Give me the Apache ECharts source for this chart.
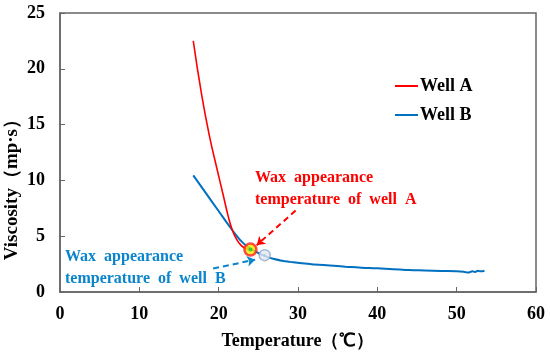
<!DOCTYPE html>
<html><head><meta charset="utf-8">
<script src="https://cdn.jsdelivr.net/npm/echarts@6/dist/echarts.min.js"></script>
<style>html,body{margin:0;padding:0;background:#fff}#c{width:550px;height:355px}</style>
</head><body><div id="c"></div>
<script>
const xTicks = [0, 10, 20, 30, 40, 50, 60];
const yTicks = [0, 5, 10, 15, 20, 25];
const wellATemp = [16.8, 17.8, 18.8, 19.8, 20.6, 21.2, 21.7, 22.2, 22.8, 23.4, 24.0];
const wellAVisc = [22.5, 17.9, 14.1, 11.0, 8.6, 6.8, 5.6, 4.8, 4.2, 3.9, 3.8];
const wellBTemp = [16.8, 18.3, 19.9, 21.3, 22.2, 23.0, 23.8, 24.6, 25.4, 26.2, 27.0, 28.0, 29, 30.5, 32, 34, 36, 38, 40, 42, 44, 46, 48, 50, 51, 51.5, 52, 52.3, 52.7, 53, 53.5];
const wellBVisc = [10.45, 8.95, 7.35, 5.95, 5.1, 4.45, 3.98, 3.65, 3.35, 3.12, 2.95, 2.8, 2.7, 2.57, 2.47, 2.37, 2.27, 2.18, 2.12, 2.03, 1.97, 1.93, 1.89, 1.85, 1.8, 1.75, 1.85, 1.8, 1.9, 1.85, 1.9];
const waxA = [24.0, 3.8];
const waxB = [25.8, 3.3];
const arrowA = [[29.7, 7.3], [24.8, 4.2]];
const arrowB = [[19.3, 2.1], [24.6, 2.9]];

const zip = (a, b) => a.map((v, i) => [v, b[i]]);
const font = 'Liberation Serif, Times New Roman, serif';

const chart = echarts.init(document.getElementById('c'));
chart.setOption({
  animation: false,
  grid: { left: 60, right: 14, top: 13, bottom: 61, show: true, borderColor: '#666', borderWidth: 1.5, backgroundColor: 'transparent' },
  legend: {
    left: 390, top: 72, orient: 'vertical', itemGap: 11, itemWidth: 23, itemHeight: 2,
    icon: 'rect',
    textStyle: { fontFamily: font, fontWeight: 'bold', fontSize: 18, color: '#000', padding: [0,0,0,-3] },
    data: ['Well A', 'Well B']
  },
  xAxis: {
    type: 'value', min: 0, max: 60, interval: 10,
    axisLine: { lineStyle: { color: '#666', width: 1.5 } },
    axisTick: { inside: true, length: 5, lineStyle: { color: '#666', width: 1 } },
    axisLabel: { margin: 13, fontFamily: font, fontWeight: 'bold', fontSize: 18, color: '#000',
      formatter: v => xTicks.includes(v) ? String(v) : '' },
    splitLine: { show: false },
    name: 'Temperature（℃）', nameLocation: 'middle', nameGap: 40,
    nameTextStyle: { fontFamily: font, fontWeight: 'bold', fontSize: 18, color: '#000' }
  },
  yAxis: {
    type: 'value', min: 0, max: 25, interval: 5,
    axisLine: { show: true, lineStyle: { color: '#666', width: 1.5 } },
    axisTick: { show: true, inside: true, length: 5, lineStyle: { color: '#666', width: 1 } },
    axisLabel: { margin: 15, fontFamily: font, fontWeight: 'bold', fontSize: 18, color: '#000',
      formatter: v => yTicks.includes(v) ? String(v) : '' },
    splitLine: { show: false }
  },
  graphic: [
    { type: 'text', left: 3, top: 110, rotation: Math.PI / 2, originX: 0, originY: 0,
      style: { text: 'Viscosity（mp·s）', font: 'bold 19px ' + font, fill: '#000' }, silent: true },
    { type: 'text', x: 255, y: 167, style: { text: 'Wax  appearance\ntemperature  of  well  A', font: 'bold 16px ' + font, fill: '#FF0000', lineHeight: 22 } },
    { type: 'text', x: 65, y: 246, style: { text: 'Wax  appearance\ntemperature  of  well  B', font: 'bold 16px ' + font, fill: '#0A84CC', lineHeight: 22 } }
  ],
  series: [
    { name: 'Well A', type: 'line', smooth: 0.5, showSymbol: false, color: '#FF0000',
      lineStyle: { width: 1.6, color: '#FF0000' }, data: zip(wellATemp, wellAVisc), z: 3 },
    { name: 'Well B', type: 'line', smooth: 0.5, showSymbol: false, color: '#0070C0',
      lineStyle: { width: 2, color: '#0070C0' }, data: zip(wellBTemp, wellBVisc), z: 2 },
    { type: 'lines', coordinateSystem: 'cartesian2d', z: 4,
      symbol: ['none', 'arrow'], symbolSize: 8,
      lineStyle: { type: [6, 4], width: 2, opacity: 1 },
      data: [
        { coords: arrowA, lineStyle: { color: '#FF0000' } },
        { coords: arrowB, lineStyle: { color: '#0A84CC' } }
      ] },
    { type: 'scatter', z: 5, symbolSize: 12, data: [waxA],
      itemStyle: { color: '#F0E800', borderColor: '#FF2020', borderWidth: 2.5 } },
    { type: 'scatter', z: 6, symbolSize: 4, data: [waxA], itemStyle: { color: '#20C040' } },
    { type: 'scatter', z: 5, symbolSize: 11, data: [waxB],
      itemStyle: { color: '#E4EAF2', borderColor: '#90A8C8', borderWidth: 1.5 } },
    { type: 'scatter', z: 6, symbolSize: 3, data: [waxB], itemStyle: { color: '#B8C8DC' } }
  ]
});
</script></body></html>
